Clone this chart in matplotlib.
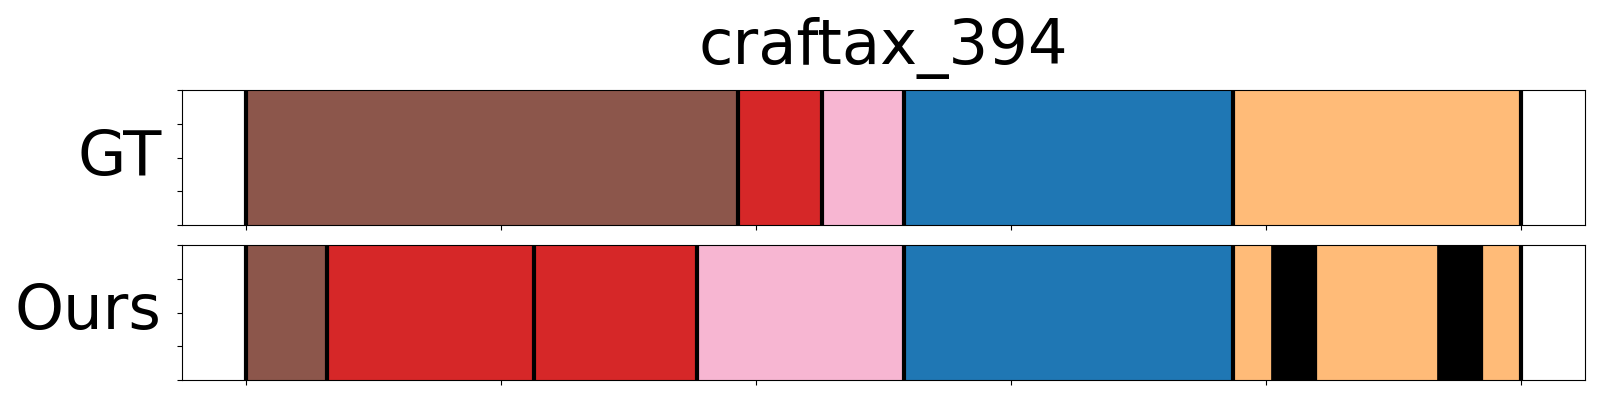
import numpy as np
from matplotlib import pyplot as plt

title = 'craftax_394'
rows = ['GT', 'Ours']

# segment boundaries (frame index) and segment colours per row
gt_bounds = [0, 193, 226, 258, 387, 500]
gt_colors = ['#8c564b', '#d62728', '#f7b6d2', '#1f77b4', '#ffbb78']

ours_bounds = [0, 32, 113, 177, 258, 387, 402, 420, 467, 485, 500]
ours_colors = ['#8c564b', '#d62728', '#d62728', '#f7b6d2', '#1f77b4',
               '#ffbb78', '#000000', '#ffbb78', '#000000', '#ffbb78']

fig = plt.figure(figsize=(16, 4), dpi=100)
ax_gt = fig.add_axes([0.1136, 0.4375, 0.8772, 0.3375])
ax_ours = fig.add_axes([0.1136, 0.05, 0.8772, 0.3375])

for ax, name, bounds, colors in [(ax_gt, rows[0], gt_bounds, gt_colors),
                                 (ax_ours, rows[1], ours_bounds, ours_colors)]:
    starts = np.array(bounds[:-1])
    widths = np.diff(bounds)
    ax.barh(0.5, widths, left=starts, height=1.0, color=colors,
            edgecolor=colors, linewidth=0.5)
    # boundary lines, skipped next to black (background) segments
    for i, b in enumerate(bounds):
        left_c = colors[i - 1] if i > 0 else None
        right_c = colors[i] if i < len(colors) else None
        if '#000000' in (left_c, right_c):
            continue
        ax.axvline(b, color='black', linewidth=3)
    ax.set_ylim(0, 1)
    ax.set_xlim(-25, 525)
    ax.set_xticks(np.arange(0, 501, 100))
    ax.set_yticks([0, 0.25, 0.5, 0.75, 1.0])
    ax.tick_params(labelbottom=False, labelleft=False)
    ax.set_ylabel(name, fontsize=45, rotation=0, ha='right', va='center', labelpad=11)

ax_gt.set_title(title, fontsize=45, pad=19)

plt.savefig('out.png', dpi=100)
